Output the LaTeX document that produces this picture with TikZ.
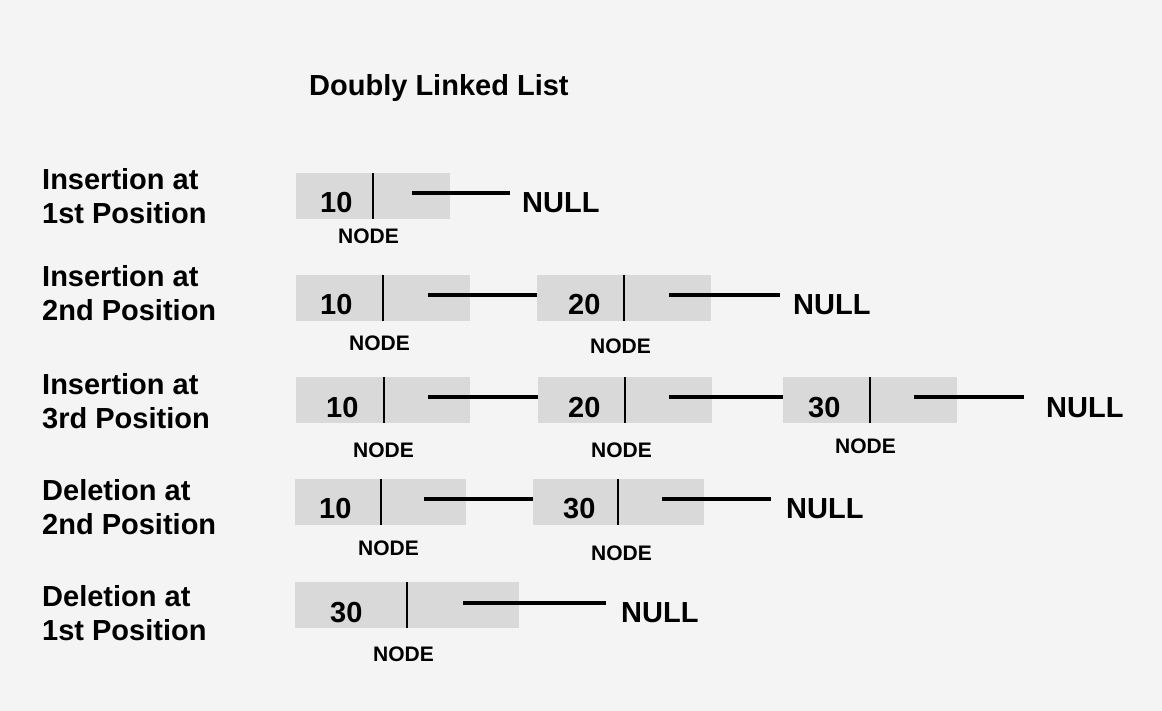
\documentclass[tikz,border=0pt]{standalone}
\usepackage{fontspec}
\setmainfont{Liberation Sans}
\usetikzlibrary{calc}
\definecolor{BgClr}{HTML}{F4F4F4}
\definecolor{CellClr}{HTML}{D9D9D9}

\begin{document}
\begin{tikzpicture}[x=1pt,y=-1pt,
  cell/.style={fill=CellClr,draw=none,anchor=north west,minimum height=46pt,inner sep=0pt},
  big/.style={font=\fontsize{29}{34}\selectfont\bfseries,inner sep=0pt,anchor=base west},
  tag/.style={font=\fontsize{21}{25}\selectfont\bfseries,inner sep=0pt,anchor=base west},
  rowlbl/.style={big,align=left},
  divider/.style={line width=1.4pt,color=black},
  link/.style={line width=3.6pt,color=black}]

\fill[BgClr] (0,0) rectangle (1162,711);
\useasboundingbox (0,0) rectangle (1162,711);

\node[big] (ttl) at (309,96) {Doubly Linked List};

% row 1
\node[rowlbl] (l1) at (42,224) {Insertion at\\1st Position};
\node[cell,minimum width=154pt] (a1) at (296,173) {};
\coordinate (a1d) at (373,173);
\draw[divider] (a1d) -- (a1d |- a1.south);
\node[big] (a1v) at (320,213) {10};
\node[tag] (a1t) at (338,244) {NODE};
\node[big] (n1) at (522,213) {NULL};
\coordinate (a1p) at (412,193);
\coordinate (n1e) at (510,193);
\draw[link] (a1p) -- (n1e);

% row 2
\node[rowlbl] (l2) at (42,321) {Insertion at\\2nd Position};
\node[cell,minimum width=174pt] (a2) at (296,275) {};
\node[cell,minimum width=174pt] (b2) at (537,275) {};
\coordinate (a2d) at (383,275);
\coordinate (b2d) at (624,275);
\draw[divider] (a2d) -- (a2d |- a2.south);
\draw[divider] (b2d) -- (b2d |- b2.south);
\node[big] (a2v) at (320,315) {10};
\node[big] (b2v) at (568,315) {20};
\node[tag] (a2t) at (349,351) {NODE};
\node[tag] (b2t) at (590,353) {NODE};
\node[big] (n2) at (793,315) {NULL};
\coordinate (a2p) at (428,295);
\coordinate (b2p) at (669,295);
\coordinate (n2e) at (780,295);
\draw[link] (a2p) -- (a2p -| b2.west);
\draw[link] (b2p) -- (n2e);

% row 3
\node[rowlbl] (l3) at (42,428) {Insertion at\\3rd Position};
\node[cell,minimum width=174pt] (a3) at (296,377) {};
\node[cell,minimum width=174pt] (b3) at (538,377) {};
\node[cell,minimum width=174pt] (c3) at (783,377) {};
\coordinate (a3d) at (384,377);
\coordinate (b3d) at (625,377);
\coordinate (c3d) at (870,377);
\draw[divider] (a3d) -- (a3d |- a3.south);
\draw[divider] (b3d) -- (b3d |- b3.south);
\draw[divider] (c3d) -- (c3d |- c3.south);
\node[big] (a3v) at (326,417) {10};
\node[big] (b3v) at (568,417) {20};
\node[big] (c3v) at (808,417) {30};
\node[tag] (a3t) at (353,457) {NODE};
\node[tag] (b3t) at (591,457) {NODE};
\node[tag] (c3t) at (835,453) {NODE};
\node[big] (n3) at (1046,417) {NULL};
\coordinate (a3p) at (428,397);
\coordinate (b3p) at (669,397);
\coordinate (c3p) at (914,397);
\coordinate (n3e) at (1024,397);
\draw[link] (a3p) -- (a3p -| b3.west);
\draw[link] (b3p) -- (b3p -| c3.west);
\draw[link] (c3p) -- (n3e);

% row 4
\node[rowlbl] (l4) at (42,534) {Deletion at\\2nd Position};
\node[cell,minimum width=171pt] (a4) at (295,479) {};
\node[cell,minimum width=171pt] (b4) at (533,479) {};
\coordinate (a4d) at (381,479);
\coordinate (b4d) at (618,479);
\draw[divider] (a4d) -- (a4d |- a4.south);
\draw[divider] (b4d) -- (b4d |- b4.south);
\node[big] (a4v) at (319,518) {10};
\node[big] (b4v) at (563,518) {30};
\node[tag] (a4t) at (358,555) {NODE};
\node[tag] (b4t) at (591,560) {NODE};
\node[big] (n4) at (786,518) {NULL};
\coordinate (a4p) at (424,499);
\coordinate (b4p) at (662,499);
\coordinate (n4e) at (771,499);
\draw[link] (a4p) -- (a4p -| b4.west);
\draw[link] (b4p) -- (n4e);

% row 5
\node[rowlbl] (l5) at (42,640) {Deletion at\\1st Position};
\node[cell,minimum width=224pt] (a5) at (295,582) {};
\coordinate (a5d) at (407,582);
\draw[divider] (a5d) -- (a5d |- a5.south);
\node[big] (a5v) at (330,622) {30};
\node[tag] (a5t) at (373,661) {NODE};
\node[big] (n5) at (621,622) {NULL};
\coordinate (a5p) at (463,603);
\coordinate (n5e) at (606,603);
\draw[link] (a5p) -- (n5e);

\end{tikzpicture}
\end{document}
